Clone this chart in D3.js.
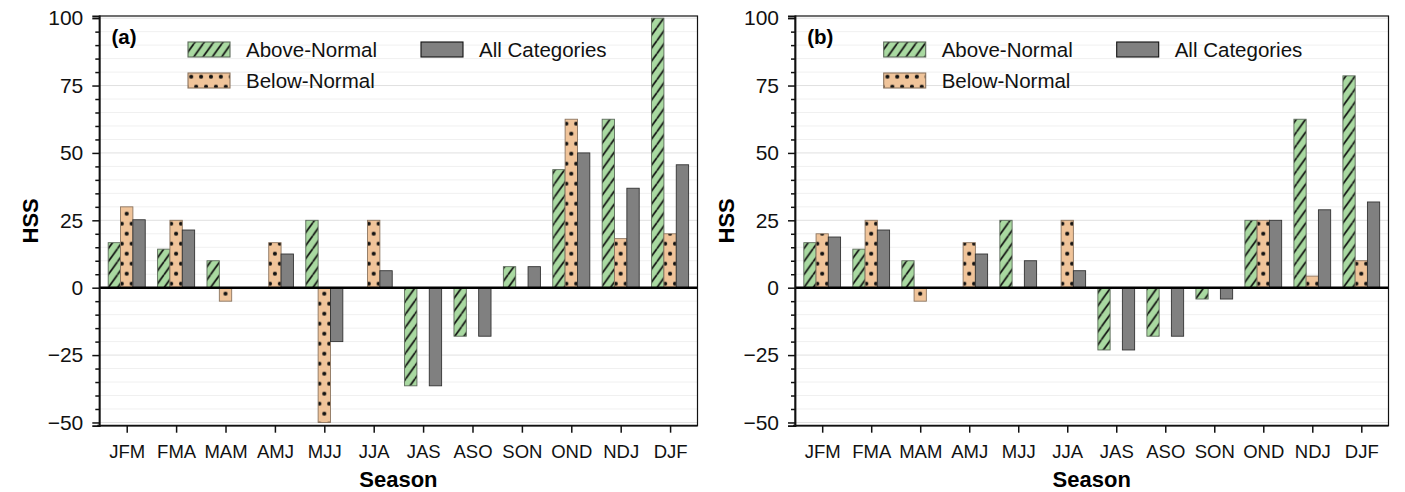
<!DOCTYPE html>
<html>
<head>
<meta charset="utf-8">
<script src="https://cdn.jsdelivr.net/npm/d3@7"></script>
<style>
  body { margin: 0; background: #fff; }
  svg { font-family: "Liberation Sans", Arial, sans-serif; }
</style>
</head>
<body>
<svg id="chart" width="1405" height="492"></svg>
<script>
// HSS by season, two panels
var seasons = ["JFM", "FMA", "MAM", "AMJ", "MJJ", "JJA", "JAS", "ASO", "SON", "OND", "NDJ", "DJF"];
var seriesNames = ["Above-Normal", "Below-Normal", "All Categories"];

// panel (a)
var aboveA = [16.7, 14.3, 10, 0, 25, 0, -36.4, -18, 7.8, 43.8, 62.5, 100];
var belowA = [30, 25, -5, 16.7, -50, 25, 0, 0, 0, 62.5, 18.2, 20];
var allA   = [25.2, 21.4, 0, 12.5, -20, 6.3, -36.4, -18, 7.8, 50, 36.9, 45.6];

// panel (b)
var aboveB = [16.7, 14.3, 10, 0, 25, 0, -23.1, -18, -4.2, 25, 62.5, 78.6];
var belowB = [20, 25, -5, 16.7, 0, 25, 0, 0, 0, 25, 4.3, 10];
var allB   = [18.8, 21.4, 0, 12.5, 10, 6.3, -23.1, -18, -4.2, 25, 28.9, 31.8];

var yTicks = [-50, -25, 0, 25, 50, 75, 100];
var yMinor = d3.range(-50, 101, 5);

var fillGreen = "#a9d9a1", fillPeach = "#f0c49a", fillGray = "#808080";

var svg = d3.select("#chart");
var defs = svg.append("defs");

function drawPanel(name, left, right, series) {
  var top = 16, bottom = 425.7;

  var x = d3.scalePoint()
      .domain(seasons)
      .range([left, right])
      .padding(0.555);

  var y = d3.scaleLinear()
      .domain([-51.2, 100.8])
      .range([bottom, top]);

  var step = x.step(),
      barW = step * 0.25;

  // patterns aligned to this panel's groups
  var hw = 9.3, hh = 13;
  var hatch = defs.append("pattern")
      .attr("id", "hatch-" + name)
      .attr("patternUnits", "userSpaceOnUse")
      .attr("width", hw).attr("height", hh)
      .attr("patternTransform", "translate(" + (x(seasons[0]) - 1.5 * barW) + "," + y(0) + ")");
  hatch.append("rect").attr("width", hw).attr("height", hh).attr("fill", fillGreen);
  hatch.append("path")
      .attr("d", "M" + (-hw) + "," + hh + "L0,0M0," + hh + "L" + hw + ",0M" + hw + "," + hh + "L" + (2 * hw) + ",0")
      .attr("stroke", "#111").attr("stroke-width", 1.7);

  var dw = step / 5;
  var dots = defs.append("pattern")
      .attr("id", "dots-" + name)
      .attr("patternUnits", "userSpaceOnUse")
      .attr("width", dw).attr("height", 20)
      .attr("patternTransform", "translate(" + x(seasons[0]) + "," + (y(0) + 1) + ")");
  dots.append("rect").attr("width", dw).attr("height", 20).attr("fill", fillPeach);
  [[0, 5], [dw, 5], [dw / 2, 15]].forEach(function(p) {
    dots.append("circle").attr("cx", p[0]).attr("cy", p[1]).attr("r", 2.1).attr("fill", "#111");
  });

  var fills = ["url(#hatch-" + name + ")", "url(#dots-" + name + ")", fillGray];
  var strokes = ["#5d6b5b", "#8c7560", "#333"];

  var g = svg.append("g").attr("class", "panel-" + name);

  // gridlines
  g.append("g").selectAll("line")
    .data(yMinor)
    .enter().append("line")
      .attr("x1", left).attr("x2", right)
      .attr("y1", function(d) { return y(d); })
      .attr("y2", function(d) { return y(d); })
      .attr("stroke", function(d) { return d % 25 === 0 ? "#e0e0e0" : "#f0f0f0"; })
      .attr("stroke-width", 1);

  // bars
  series.forEach(function(vals, si) {
    g.append("g")
      .selectAll("rect")
      .data(vals.map(function(v, i) { return {s: seasons[i], v: v}; })
        .filter(function(d) { return d.v !== 0; }))
      .enter().append("rect")
        .attr("x", function(d) { return x(d.s) - 1.5 * barW + si * barW; })
        .attr("y", function(d) { return y(Math.max(0, d.v)); })
        .attr("width", barW)
        .attr("height", function(d) { return Math.abs(y(d.v) - y(0)); })
        .attr("fill", fills[si])
        .attr("stroke", strokes[si])
        .attr("stroke-width", 0.9);
  });

  // zero line
  g.append("line")
      .attr("x1", left).attr("x2", right)
      .attr("y1", y(0)).attr("y2", y(0))
      .attr("stroke", "#000").attr("stroke-width", 2.4);

  // frame
  g.append("rect")
      .attr("x", left).attr("y", top)
      .attr("width", right - left).attr("height", bottom - top)
      .attr("fill", "none").attr("stroke", "#111").attr("stroke-width", 1.2);

  // y axis
  var yAxis = g.append("g")
      .attr("transform", "translate(" + left + ",0)")
      .call(d3.axisLeft(y).tickValues(yTicks).tickSize(7).tickPadding(9)
        .tickFormat(function(d) { return d < 0 ? "\u2212" + Math.abs(d) : d; }));
  yAxis.selectAll("text").style("font-size", "21px").attr("fill", "#111");

  g.append("g")
      .attr("transform", "translate(" + left + ",0)")
      .call(d3.axisLeft(y).tickValues(yMinor.filter(function(d) { return d % 25 !== 0; }))
        .tickSize(4).tickFormat(""))
      .select(".domain").remove();

  // x axis
  var xAxis = g.append("g")
      .attr("transform", "translate(0," + bottom + ")")
      .call(d3.axisBottom(x).tickSize(7).tickPadding(12));
  xAxis.selectAll("text").style("font-size", "18.5px").attr("fill", "#111");
  xAxis.select(".domain").attr("d", "M" + (left - 2) + ",0H" + right);

  g.selectAll(".tick line").attr("stroke", "#111").attr("stroke-width", 1.5);
  g.selectAll(".domain").attr("stroke", "#111").attr("stroke-width", 1.8);

  // axis titles
  g.append("text")
      .attr("transform", "translate(" + (left - 61) + "," + ((top + bottom) / 2) + ") rotate(-90)")
      .attr("text-anchor", "middle")
      .style("font-size", "22px").style("font-weight", "bold")
      .text("HSS");

  g.append("text")
      .attr("x", (left + right) / 2)
      .attr("y", 486.5)
      .attr("text-anchor", "middle")
      .style("font-size", "22px").style("font-weight", "bold")
      .text("Season");

  // panel label
  g.append("text")
      .attr("x", left + 12.2)
      .attr("y", 44)
      .style("font-size", "20.5px").style("font-weight", "bold")
      .text("(" + name + ")");

  // legend
  var legendPos = [[88.7, 42], [88.7, 73], [321.7, 42]];
  var legend = g.selectAll(".legend")
    .data(seriesNames)
    .enter().append("g")
      .attr("class", "legend")
      .attr("transform", function(d, i) {
        return "translate(" + (left + legendPos[i][0]) + "," + legendPos[i][1] + ")";
      });

  legend.append("rect")
      .attr("width", 42).attr("height", 15)
      .attr("fill", function(d, i) { return fills[i]; })
      .attr("stroke", function(d, i) { return i === 2 ? "#111" : strokes[i]; })
      .attr("stroke-width", 1.1);

  legend.append("text")
      .attr("x", 58)
      .attr("y", 15.3)
      .style("font-size", "20.5px")
      .attr("fill", "#111")
      .text(function(d) { return d; });
}

drawPanel("a", 99.3, 697.5, [aboveA, belowA, allA]);
drawPanel("b", 795, 1388.5, [aboveB, belowB, allB]);
</script>
</body>
</html>
